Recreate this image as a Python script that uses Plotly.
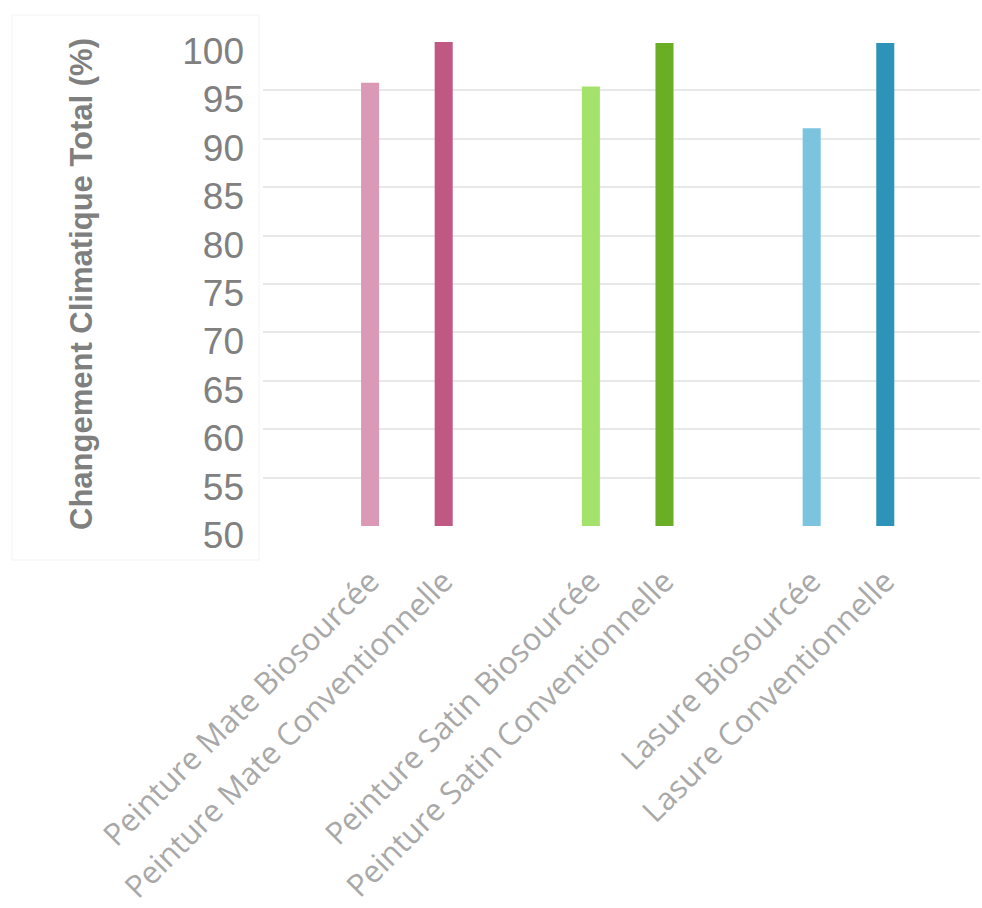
import plotly.graph_objects as go

# Products, grouped by type (biosourced vs conventional)
groups = [
    ["Peinture Mate Biosourcée", "Peinture Mate Conventionnelle"],
    ["Peinture Satin Biosourcée", "Peinture Satin Conventionnelle"],
    ["Lasure Biosourcée", "Lasure Conventionnelle"],
]
# Total climate change impact (%), relative to the conventional product
values = [
    [95.8, 100.0],
    [95.4, 99.9],
    [91.1, 99.9],
]
colors = [
    ["#da9ab5", "#c05884"],
    ["#a4e26c", "#6aae26"],
    ["#7cc4de", "#2d93b8"],
]
y_ticks = [50, 55, 60, 65, 70, 75, 80, 85, 90, 95, 100]

# Flatten groups, inserting an empty category between each group
x_cats, y_vals, bar_cols = [], [], []
for gi, (labs, vals, cols) in enumerate(zip(groups, values, colors)):
    if gi > 0:
        x_cats.append(" " * gi)
        y_vals.append(None)
        bar_cols.append("rgba(0,0,0,0)")
    x_cats.extend(labs)
    y_vals.extend(vals)
    bar_cols.extend(cols)

fig = go.Figure(
    go.Bar(
        x=x_cats,
        y=y_vals,
        marker=dict(color=bar_cols, line=dict(width=0)),
        width=0.245,
        hoverinfo="x+y",
    )
)

fig.update_layout(
    width=982,
    height=908,
    margin=dict(l=263, r=2, t=42, b=382),
    paper_bgcolor="white",
    plot_bgcolor="white",
    showlegend=False,
    font=dict(family="Liberation Sans, Arial, sans-serif"),
)

fig.update_xaxes(
    type="category",
    categoryorder="array",
    categoryarray=x_cats,
    range=[-1.455, 8.287],
    tickangle=-45,
    ticks="",
    showgrid=False,
    showline=False,
    zeroline=False,
    tickfont=dict(family="Open Sans, Lato, sans-serif", size=31, color="#a8a8a8"),
    ticklabelstandoff=30,
)

fig.update_yaxes(
    range=[50, 100],
    tickvals=y_ticks,
    ticks="",
    showline=False,
    zeroline=False,
    showgrid=True,
    gridcolor="#e8e8e8",
    gridwidth=2,
    tickfont=dict(family="Liberation Sans, Arial, sans-serif", size=37, color="#808080"),
    ticklabelstandoff=18,
    ticklabelshift=9,
    title=dict(
        text="<b>Changement Climatique Total (%)</b>",
        font=dict(family="Liberation Sans, Arial, sans-serif", size=31, color="#7f7f7f"),
        standoff=80,
    ),
)

# faint frame around the value axis area
fig.add_shape(
    type="rect",
    xref="paper", yref="paper",
    x0=-251 / 717, x1=-4 / 717,
    y0=(526 - 560) / 484, y1=(526 - 15) / 484,
    line=dict(color="#f3f3f3", width=1),
    fillcolor="rgba(0,0,0,0)",
    layer="below",
)

fig.write_html("out.html")
